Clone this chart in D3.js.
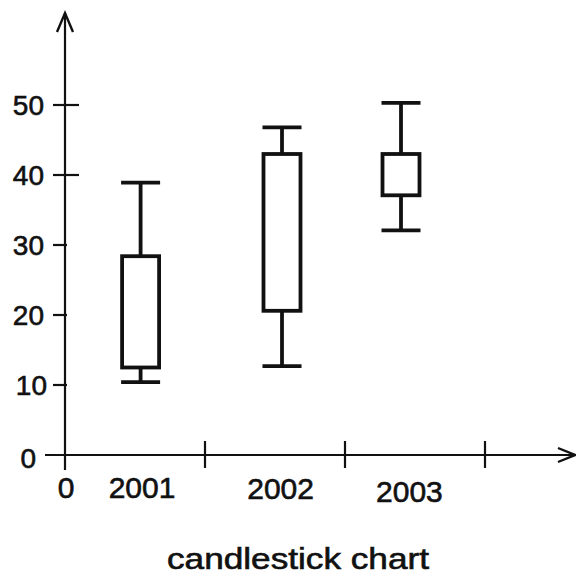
<!DOCTYPE html>
<html>
<head>
<meta charset="utf-8">
<script src="https://cdn.jsdelivr.net/npm/d3@7"></script>
<style>
  html, body { margin: 0; padding: 0; background: #fff; }
  svg { display: block; }
  text { font-family: "Liberation Sans", Arial, Helvetica, sans-serif; fill: #111; stroke: #111; stroke-width: 0.6px; }
</style>
</head>
<body>
<script>
// ---- data ----
const years = ["2001", "2002", "2003"];
const highs = [38.9, 46.8, 50.3];
const opens = [12.5, 20.6, 37.1];
const closes = [28.4, 43.0, 43.0];
const lows = [10.4, 12.7, 32.1];
const candlePos = [0.54, 1.55, 2.4];     // x position in axis units
const labelPos = [0.55, 1.54, 2.46];     // x label position in axis units
const yTickValues = [10, 20, 30, 40, 50];
const xTickValues = [1, 2, 3];
const title = "candlestick chart";

const W = 576, H = 575;
const svg = d3.select("body").append("svg").attr("width", W).attr("height", H);

const x = d3.scaleLinear().domain([0, 3]).range([65, 485]);
const y = d3.scaleLinear().domain([0, 50]).range([455, 105]);

const ink = "#111";
const g = svg.append("g");

// axes lines
g.append("line").attr("x1", x(0)).attr("x2", x(0)).attr("y1", 13).attr("y2", 470)
  .attr("stroke", ink).attr("stroke-width", 2.2);
g.append("line").attr("x1", 45).attr("x2", 574).attr("y1", y(0)).attr("y2", y(0))
  .attr("stroke", ink).attr("stroke-width", 2.2);

// arrows
g.append("path").attr("d", `M${x(0) - 8},32 L${x(0)},13 L${x(0) + 8},32`)
  .attr("fill", "none").attr("stroke", ink).attr("stroke-width", 2.4);
g.append("path").attr("d", `M558,${y(0) - 7} L575,${y(0)} L558,${y(0) + 7}`)
  .attr("fill", "none").attr("stroke", ink).attr("stroke-width", 2.4);

// y ticks
g.selectAll(".yt").data(yTickValues).join("line")
  .attr("x1", 53).attr("x2", d => d >= 40 ? 79 : 67)
  .attr("y1", d => y(d)).attr("y2", d => y(d))
  .attr("stroke", ink).attr("stroke-width", 2.2);
g.selectAll(".yl").data(yTickValues).join("text")
  .attr("x", d => d === 10 ? 47 : 44).attr("y", d => y(d) + 10)
  .attr("text-anchor", "end").attr("font-size", 28).text(d => d);
g.append("text").attr("x", 36).attr("y", y(0) + 13).attr("text-anchor", "end")
  .attr("font-size", 28).text("0");

// x ticks
g.selectAll(".xt").data(xTickValues).join("line")
  .attr("x1", d => x(d)).attr("x2", d => x(d)).attr("y1", 441).attr("y2", 468)
  .attr("stroke", ink).attr("stroke-width", 2.2);
g.append("text").attr("x", x(0) + 1).attr("y", 498).attr("text-anchor", "middle")
  .attr("font-size", 30).text("0");
const labelBase = [498, 499, 502];
g.selectAll(".xl").data(years).join("text")
  .attr("x", (d, i) => x(labelPos[i])).attr("y", (d, i) => labelBase[i])
  .attr("text-anchor", "middle").attr("font-size", 30).text(d => d);

// candles
const bw = 37, sw = 3.8;
const candles = g.selectAll(".c").data(years).join("g");
candles.append("line")
  .attr("x1", (d, i) => x(candlePos[i])).attr("x2", (d, i) => x(candlePos[i]))
  .attr("y1", (d, i) => y(highs[i])).attr("y2", (d, i) => y(lows[i]))
  .attr("stroke", ink).attr("stroke-width", sw);
candles.append("line")
  .attr("x1", (d, i) => x(candlePos[i]) - bw / 2 - 1).attr("x2", (d, i) => x(candlePos[i]) + bw / 2 + 1)
  .attr("y1", (d, i) => y(highs[i])).attr("y2", (d, i) => y(highs[i]))
  .attr("stroke", ink).attr("stroke-width", sw);
candles.append("line")
  .attr("x1", (d, i) => x(candlePos[i]) - bw / 2 - 1).attr("x2", (d, i) => x(candlePos[i]) + bw / 2 + 1)
  .attr("y1", (d, i) => y(lows[i])).attr("y2", (d, i) => y(lows[i]))
  .attr("stroke", ink).attr("stroke-width", sw);
candles.append("rect")
  .attr("x", (d, i) => x(candlePos[i]) - bw / 2)
  .attr("width", bw)
  .attr("y", (d, i) => y(Math.max(opens[i], closes[i])))
  .attr("height", (d, i) => Math.abs(y(opens[i]) - y(closes[i])))
  .attr("fill", "#fff").attr("stroke", ink).attr("stroke-width", sw);

// title
svg.append("text").attr("x", 298).attr("y", 569).attr("text-anchor", "middle")
  .attr("font-size", 29).attr("textLength", 262).attr("lengthAdjust", "spacingAndGlyphs")
  .text(title);
</script>
</body>
</html>
